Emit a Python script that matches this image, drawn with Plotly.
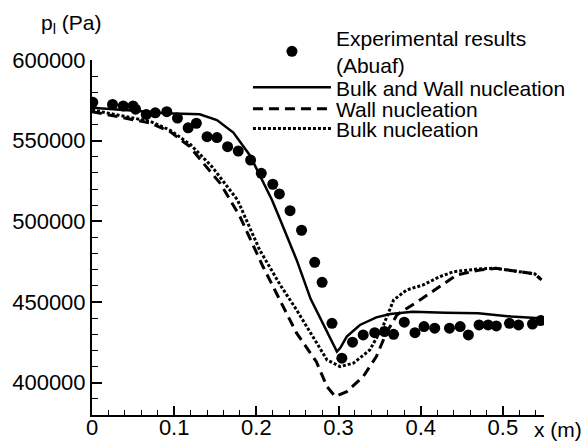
import plotly.graph_objects as go

# Experimental results (Abuaf)
x_exp = [0.001, 0.025, 0.038, 0.050, 0.053, 0.066, 0.077, 0.091, 0.104, 0.117, 0.127, 0.140, 0.152,
         0.165, 0.178, 0.193, 0.206, 0.220, 0.228, 0.241, 0.255, 0.271, 0.280, 0.292, 0.304,
         0.317, 0.330, 0.344, 0.356, 0.367, 0.380, 0.393, 0.404, 0.417, 0.435, 0.448, 0.458,
         0.471, 0.482, 0.492, 0.508, 0.519, 0.536, 0.546]
y_exp = [573800, 572500, 571500, 571500, 569500, 566300, 567300, 568000, 564000, 558000, 560800, 552500, 551900,
         546300, 543600, 538000, 529800, 523000, 517000, 506600, 494500, 474600, 462200, 436800, 415200,
         425100, 429600, 431000, 431700, 430000, 437500, 431000, 434800, 433800, 433800, 434800, 429600,
         435800, 435800, 435200, 436800, 435800, 436400, 438500]

# Bulk and Wall nucleation
x_bw = [0.0, 0.03, 0.06, 0.09, 0.12, 0.131, 0.152, 0.172, 0.192, 0.204, 0.219, 0.229, 0.249, 0.266,
        0.282, 0.298, 0.302, 0.310, 0.326, 0.346, 0.363, 0.39, 0.43, 0.47, 0.51, 0.545]
y_bw = [570400, 569500, 568200, 567000, 566800, 566400, 562800, 555000, 541000, 528500, 513300, 501000,
        476100, 452000, 436000, 419300, 421500, 428600, 435800, 440500, 442600, 444000, 443400, 443000,
        441000, 440000]

# Wall nucleation
x_w = [0.0, 0.03, 0.05, 0.0706, 0.095, 0.119, 0.139, 0.156, 0.168, 0.18, 0.208, 0.229, 0.249, 0.273,
       0.286, 0.296, 0.310, 0.330, 0.346, 0.358, 0.371, 0.399, 0.423, 0.444, 0.472, 0.492, 0.521,
       0.539, 0.547]
y_w = [568000, 565000, 563000, 561000, 555600, 546300, 533900, 523600, 513300, 503000, 472000, 451300,
       430700, 413000, 397600, 391400, 394500, 403800, 416200, 430700, 442000, 451300, 459500, 466800,
       469900, 470900, 468800, 467400, 463700]

# Bulk nucleation
x_b = [0.0, 0.03, 0.05, 0.0706, 0.095, 0.12, 0.146, 0.162, 0.177, 0.204, 0.229, 0.249, 0.269, 0.286,
       0.302, 0.318, 0.338, 0.354, 0.367, 0.383, 0.403, 0.423, 0.44, 0.47, 0.49, 0.52, 0.539, 0.547]
y_b = [569000, 566000, 564000, 562000, 556500, 547500, 533900, 523600, 513300, 482300, 460600, 445100,
       428600, 414100, 410000, 412100, 420300, 434800, 451300, 457500, 460600, 465700, 468800, 470500,
       471000, 468800, 467400, 463700]

FONT = "Liberation Sans, Arial, Helvetica, sans-serif"
LEG_FONT = dict(family=FONT, size=21, color="black")

fig = go.Figure()
fig.add_trace(go.Scatter(x=x_exp, y=y_exp, mode="markers", name="Experimental results<br>(Abuaf)",
                         marker=dict(color="black", size=11, symbol="circle"), legend="legend"))
fig.add_trace(go.Scatter(x=x_bw, y=y_bw, mode="lines", name="Bulk and Wall nucleation",
                         line=dict(color="black", width=2.5), legend="legend2"))
fig.add_trace(go.Scatter(x=x_w, y=y_w, mode="lines", name="Wall nucleation",
                         line=dict(color="black", width=3, dash="10px,6px"), legend="legend3"))
fig.add_trace(go.Scatter(x=x_b, y=y_b, mode="lines", name="Bulk nucleation",
                         line=dict(color="black", width=3, dash="3px,2px"), legend="legend4"))

def leg(y):
    return dict(x=0.345, y=y, xanchor="left", yanchor="middle", valign="middle",
                font=LEG_FONT, bgcolor="rgba(0,0,0,0)", itemwidth=78,
                tracegroupgap=0)

fig.update_layout(
    width=585, height=443,
    margin=dict(l=92, r=41, t=60, b=28, autoexpand=False),
    paper_bgcolor="white", plot_bgcolor="white",
    font=dict(family=FONT, size=22, color="black"),
    showlegend=True,
    legend=leg(1.024),
    legend2=leg(0.922),
    legend3=leg(0.862),
    legend4=leg(0.806),
    xaxis=dict(range=[0, 0.55], showline=True, linecolor="black", linewidth=2, automargin=False,
               ticks="inside", ticklen=9, tickwidth=1.5, tickcolor="black",
               tick0=0, dtick=0.1, showgrid=False, zeroline=False, ticklabelstandoff=-8,
               tickfont=dict(family=FONT, size=22, color="black"),
               minor=dict(ticks="inside", ticklen=5, tickwidth=1.2, tickcolor="black", dtick=0.02, showgrid=False)),
    yaxis=dict(range=[380000, 600000], showline=True, linecolor="black", linewidth=2, automargin=False,
               ticks="inside", ticklen=10, tickwidth=1.5, tickcolor="black",
               tick0=0, dtick=50000, tickformat="d", showgrid=False, zeroline=False,
               tickfont=dict(family=FONT, size=22, color="black"),
               minor=dict(ticks="inside", ticklen=6, tickwidth=1.2, tickcolor="black", dtick=10000, showgrid=False)),
    annotations=[
        dict(text="p<sub>l</sub> (Pa)", xref="paper", yref="paper", x=-0.117, y=1.145,
             xanchor="left", yanchor="top", showarrow=False, font=dict(family=FONT, size=21, color="black")),
        dict(text="x (m)", xref="paper", yref="paper", x=0.974, y=-0.003,
             xanchor="left", yanchor="top", showarrow=False, font=dict(family=FONT, size=21, color="black")),
    ],
)

fig.write_html("out.html")
